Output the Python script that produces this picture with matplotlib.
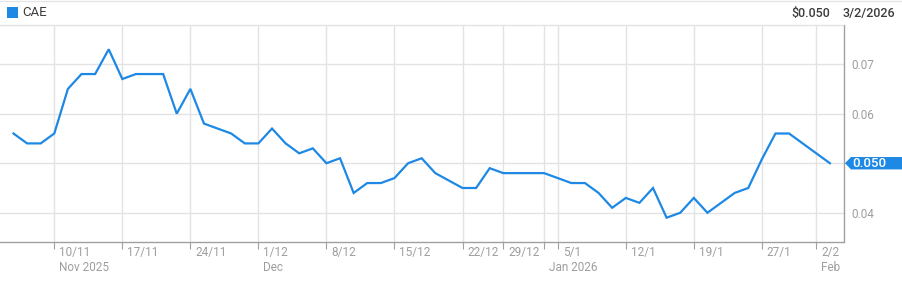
import matplotlib
matplotlib.use("Agg")
import matplotlib.pyplot as plt
from matplotlib.patches import Polygon, Rectangle
from matplotlib.lines import Line2D
import matplotlib.transforms as mtrans

# ---- data ----
dates = ["5/11", "6/11", "7/11", "10/11", "11/11", "12/11", "13/11", "14/11",
         "17/11", "18/11", "19/11", "20/11", "21/11", "24/11", "25/11", "26/11",
         "27/11", "28/11", "1/12", "2/12", "3/12", "4/12", "5/12", "8/12",
         "9/12", "10/12", "11/12", "12/12", "15/12", "16/12", "17/12", "18/12",
         "19/12", "22/12", "23/12", "24/12", "29/12", "30/12", "31/12", "2/1",
         "5/1", "6/1", "7/1", "8/1", "9/1", "12/1", "13/1", "14/1", "15/1",
         "16/1", "19/1", "20/1", "21/1", "22/1", "23/1", "27/1", "28/1", "29/1",
         "30/1", "2/2", "3/2"]
values = [0.056, 0.054, 0.054, 0.056, 0.065, 0.068, 0.068, 0.073, 0.067, 0.068,
          0.068, 0.068, 0.060, 0.065, 0.058, 0.057, 0.056, 0.054, 0.054, 0.057,
          0.054, 0.052, 0.053, 0.050, 0.051, 0.044, 0.046, 0.046, 0.047, 0.050,
          0.051, 0.048, 0.0465, 0.045, 0.045, 0.049, 0.048, 0.048, 0.048, 0.048,
          0.047, 0.046, 0.046, 0.044, 0.041, 0.043, 0.042, 0.045, 0.039, 0.040,
          0.043, 0.040, 0.042, 0.044, 0.045, 0.0508, 0.056, 0.056, 0.054, 0.052,
          0.050]
week_ticks = ["10/11", "17/11", "24/11", "1/12", "8/12", "15/12", "22/12",
              "29/12", "5/1", "12/1", "19/1", "27/1", "2/2"]
month_starts = ["10/11", "1/12", "2/1", "2/2"]
month_labels = ["Nov 2025", "Dec", "Jan 2026", "Feb"]
y_ticks = [0.04, 0.05, 0.06, 0.07]
y_tick_labels = ["0.04", "", "0.06", "0.07"]
ticker = "CAE"
last_price = "$0.050"
last_date = "3/2/2026"
last_tag = "0.050"

BLUE = "#1e88e5"
GRID = "#e3e3e3"
AXIS = "#a0a0a0"
LABEL = "#9e9e9e"
DARK = "#3c3c3c"

plt.rcParams['font.family'] = ['Roboto', 'DejaVu Sans']

W, H = 902, 282
fig = plt.figure(figsize=(W / 100, H / 100), dpi=100)
ax = fig.add_axes([0, (H - 242) / H, 843.5 / W, (242 - 25) / H])

x = list(range(len(dates)))
ax.plot(x, values, color=BLUE, lw=1.6, solid_joinstyle='miter', zorder=3)

ax.set_xlim(-0.99, 61.0)
ax.set_ylim(0.0341, 0.0779)

# gridlines
grid_idx = sorted(set(dates.index(d) for d in week_ticks + month_starts))
ax.set_xticks(grid_idx)
ax.set_xticklabels([])
ax.tick_params(axis='x', length=5, width=0.8, color=AXIS)
for gi in grid_idx:
    ax.axvline(gi, color=GRID, lw=1, zorder=1)
ax.set_yticks(y_ticks)
ax.set_yticklabels(y_tick_labels)
ax.yaxis.tick_right()
ax.tick_params(axis='y', length=0, pad=5.5, labelsize=8.5, labelcolor=LABEL)
for yt in y_ticks:
    ax.axhline(yt, color=GRID, lw=1, zorder=1)

ax.spines['left'].set_visible(False)
ax.spines['top'].set_color(GRID)
ax.spines['top'].set_linewidth(1)
ax.spines['right'].set_color(AXIS)
ax.spines['bottom'].set_color(AXIS)
ax.spines['right'].set_linewidth(1)
ax.spines['bottom'].set_linewidth(1)

# x labels
trans = mtrans.blended_transform_factory(ax.transData, fig.transFigure)
off = mtrans.ScaledTranslation(5 / 100, 0, fig.dpi_scale_trans)
for lab in week_ticks:
    ax.text(dates.index(lab), (H - 252.7) / H, lab, transform=trans + off,
            ha='left', va='center', fontsize=8.5, color=LABEL, clip_on=False)
for d, lab in zip(month_starts, month_labels):
    ax.text(dates.index(d), (H - 267.7) / H, lab, transform=trans + off,
            ha='left', va='center', fontsize=8.5, color=LABEL, clip_on=False)

# last value tag
ppu = (242 - 25) / (0.0779 - 0.0341)
hh = 6.2 / ppu
yv = values[-1]
tt = mtrans.blended_transform_factory(fig.transFigure, ax.transData)
poly = Polygon([(845 / W, yv), (851 / W, yv + hh), (1.0, yv + hh),
                (1.0, yv - hh), (851 / W, yv - hh)], closed=True,
               transform=tt, facecolor=BLUE, edgecolor='none', clip_on=False,
               zorder=5)
ax.add_patch(poly)
ax.text(852 / W, yv, last_tag, transform=tt, ha='left', va='center',
        fontsize=9.5, color='white', fontweight='medium', clip_on=False, zorder=6)

# header
fig.add_artist(Line2D([0, 1], [(H - 1) / H, (H - 1) / H], color="#e6e6e6",
                      lw=1, transform=fig.transFigure))
fig.add_artist(Rectangle((6.7 / W, (H - 18.3) / H), 10.8 / W, 11 / H,
                         transform=fig.transFigure, facecolor=BLUE,
                         edgecolor='none'))
fig.text(22.5 / W, (H - 13) / H, ticker, ha='left', va='center',
         fontsize=9.5, color=DARK)
fig.text(830 / W, (H - 13) / H, last_price, ha='right', va='center',
         fontsize=9, color=DARK, fontweight='medium')
fig.text(895 / W, (H - 13) / H, last_date, ha='right', va='center',
         fontsize=9, color=DARK, fontweight='medium')

fig.savefig("out.png", dpi=100)
